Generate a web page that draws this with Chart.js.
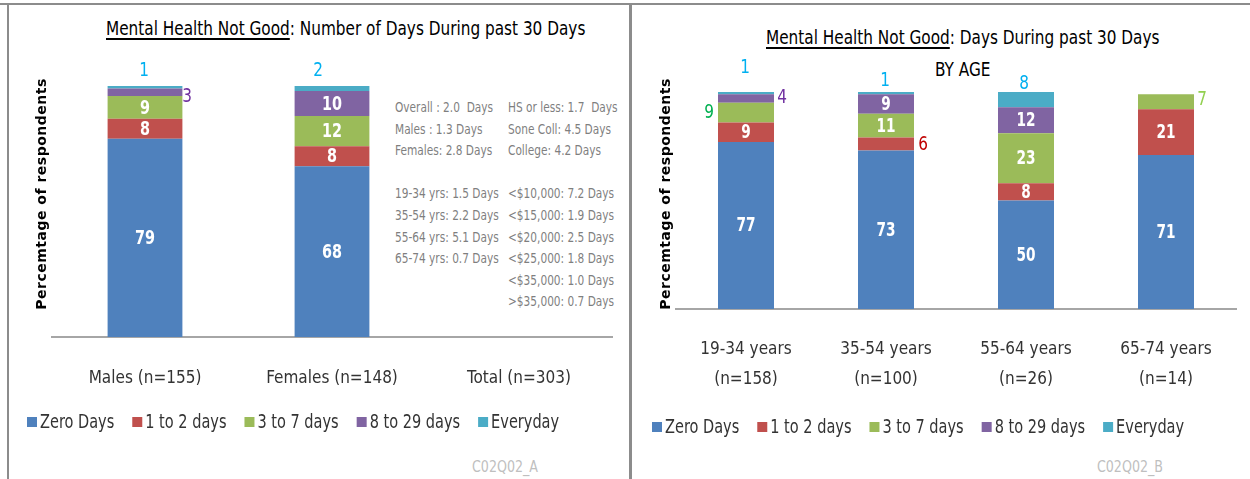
<!DOCTYPE html>
<html>
<head>
<meta charset="utf-8">
<script src="https://cdn.jsdelivr.net/npm/chart.js@4.4.1/dist/chart.umd.min.js"></script>
<style>
  html, body { margin: 0; padding: 0; background: #fff; }
  body { width: 1250px; height: 479px; position: relative; overflow: hidden;
         font-family: 'DejaVu Sans Condensed', Roboto, sans-serif; }
  .frame { position: absolute; background: #8c8c8c; }
  .title { position: absolute; font-size: 20px; line-height: 24px; color: #000; white-space: nowrap;
           transform: scaleX(0.85); transform-origin: 0 50%; }
  .title u { text-decoration-thickness: 2px; text-underline-offset: 3px; }
  .stats { position: absolute; font-size: 14px; color: #7f7f7f; white-space: pre; line-height: 21.6px;
           transform: scaleX(0.84); transform-origin: 0 0; }
  .code { position: absolute; font-size: 16px; color: #bfbfbf; width: 120px; text-align: center; line-height: 20px;
          transform: scaleX(0.88); }
  canvas { position: absolute; }
</style>
</head>
<body>
<div class="frame" style="left:0;top:3px;width:1250px;height:2px"></div>
<div class="frame" style="left:7px;top:3px;width:2px;height:476px"></div>
<div class="frame" style="left:629px;top:3px;width:3px;height:476px"></div>

<div class="title" style="left:106px;top:16px"><u>Mental Health Not Good</u>: Number of Days During past 30 Days</div>
<div class="title" style="left:766px;top:25px"><u>Mental Health Not Good</u>: Days During past 30 Days</div>
<div class="title" style="left:935px;top:57px">BY AGE</div>

<div class="stats" id="statsLeft" style="left:395px;top:97px"></div>
<div class="stats" id="statsRight" style="left:508px;top:97px"></div>

<div class="code" style="left:445px;top:457px">C02Q02_A</div>
<div class="code" style="left:1070px;top:457px">C02Q02_B</div>

<canvas id="chartLeft" width="618" height="473" style="left:10px;top:6px"></canvas>
<canvas id="chartRight" width="617" height="473" style="left:633px;top:6px"></canvas>

<script>
// ---- data ----
const seriesNames = ['Zero Days', '1 to 2 days', '3 to 7 days', '8 to 29 days', 'Everyday'];
const seriesColors = ['#4f81bd', '#c0504d', '#9bbb59', '#8064a2', '#4bacc6'];

const genderLabels = ['Males (n=155)', 'Females (n=148)', 'Total (n=303)'];
const genderZero = [79, 68, null];
const genderOneTwo = [8, 8, null];
const genderThreeSeven = [9, 12, null];
const genderEightTwentyNine = [3, 10, null];
const genderEveryday = [1, 2, null];

const ageLabels = [['19-34 years', '(n=158)'], ['35-54 years', '(n=100)'], ['55-64 years', '(n=26)'], ['65-74 years', '(n=14)']];
const ageZero = [77, 73, 50, 71];
const ageOneTwo = [9, 6, 8, 21];
const ageThreeSeven = [9, 11, 23, 7];
const ageEightTwentyNine = [4, 9, 12, 0];
const ageEveryday = [1, 1, 8, 0];

const statsLeftCol = ['Overall : 2.0  Days', 'Males : 1.3 Days', 'Females: 2.8 Days', '',
  '19-34 yrs: 1.5 Days', '35-54 yrs: 2.2 Days', '55-64 yrs: 5.1 Days', '65-74 yrs: 0.7 Days'];
const statsRightCol = ['HS or less: 1.7  Days', 'Sone Coll: 4.5 Days', 'College: 4.2 Days', '',
  '<$10,000: 7.2 Days', '<$15,000: 1.9 Days', '<$20,000: 2.5 Days', '<$25,000: 1.8 Days',
  '<$35,000: 1.0 Days', '>$35,000: 0.7 Days'];

document.getElementById('statsLeft').textContent = statsLeftCol.join('\n');
document.getElementById('statsRight').textContent = statsRightCol.join('\n');

const NARROW = "'DejaVu Sans Condensed', Roboto, sans-serif";
Chart.defaults.font.family = NARROW;

// draw text squeezed horizontally (the original uses a narrow font)
function squished(ctx, text, x, y, sx) {
    ctx.save();
    ctx.translate(x, y);
    ctx.scale(sx, 1);
    ctx.fillText(text, 0, 0);
    ctx.restore();
}

// ---- plugins ----
// value labels on each stacked segment (white inside, coloured when moved outside)
const segmentLabels = {
    id: 'segmentLabels',
    afterDatasetsDraw(chart, args, opts) {
        const ctx = chart.ctx;
        chart.data.datasets.forEach((ds, di) => {
            const meta = chart.getDatasetMeta(di);
            meta.data.forEach((bar, i) => {
                const v = ds.data[i];
                if (!v) return;
                const out = opts.outside.find(o => o.ds === di && o.i === i);
                ctx.save();
                ctx.textAlign = 'center';
                ctx.textBaseline = 'middle';
                if (out) {
                    const ay = out.anchor === 'top' ? bar.y : (bar.y + bar.base) / 2;
                    ctx.fillStyle = out.color;
                    ctx.font = opts.outsideFont;
                    squished(ctx, String(v), bar.x + out.dx, ay + out.dy, 0.85);
                } else {
                    ctx.fillStyle = '#fff';
                    ctx.font = opts.insideFont;
                    squished(ctx, String(v), bar.x, (bar.y + bar.base) / 2 + 1, 0.8);
                }
                ctx.restore();
            });
        });
    }
};

// horizontal legend with square swatches
const squareLegend = {
    id: 'squareLegend',
    afterDraw(chart, args, opts) {
        const ctx = chart.ctx;
        ctx.save();
        ctx.font = opts.font;
        ctx.textBaseline = 'middle';
        ctx.textAlign = 'left';
        let x = opts.x;
        chart.data.datasets.forEach(ds => {
            ctx.fillStyle = ds.backgroundColor;
            ctx.fillRect(x, opts.y - 5, 10, 10);
            ctx.fillStyle = opts.color;
            squished(ctx, ds.label, x + 13, opts.y + 1, opts.sx);
            x += 13 + ctx.measureText(ds.label).width * opts.sx + opts.gap;
        });
        ctx.restore();
    }
};

// rotated y axis title
const axisTitle = {
    id: 'axisTitle',
    afterDraw(chart, args, opts) {
        const ctx = chart.ctx;
        ctx.save();
        ctx.translate(opts.x, opts.y);
        ctx.rotate(-Math.PI / 2);
        ctx.font = "bold 14px 'DejaVu Sans', sans-serif";
        ctx.letterSpacing = '0.5px';
        ctx.fillStyle = '#000';
        ctx.textAlign = 'center';
        ctx.textBaseline = 'middle';
        ctx.fillText(opts.text, 0, 0);
        ctx.restore();
    }
};

function makeDatasets(cols) {
    return cols.map((data, k) => ({
        label: seriesNames[k],
        data: data,
        backgroundColor: seriesColors[k],
        borderWidth: 0,
        categoryPercentage: 1,
        barPercentage: 0.4
    }));
}

function makeOptions(cfg) {
    return {
        responsive: false,
        devicePixelRatio: 1,
        animation: false,
        layout: { padding: cfg.padding },
        scales: {
            x: {
                stacked: true,
                grid: { display: false, drawTicks: false },
                border: { display: true, color: '#a6a6a6', width: 2 },
                ticks: { color: '#333', padding: cfg.tickPadding, font: { size: 17, lineHeight: cfg.tickLineHeight }, maxRotation: 0 },
                afterFit: s => { s.height = 100; }
            },
            y: {
                display: false,
                stacked: true,
                min: 0,
                max: 100
            }
        },
        plugins: {
            legend: { display: false },
            tooltip: { enabled: false },
            segmentLabels: {
                insideFont: cfg.insideFont,
                outsideFont: '20px ' + NARROW,
                outside: cfg.outside
            },
            squareLegend: { x: cfg.legendX, y: cfg.legendY, gap: 18, sx: 0.85, font: '19px ' + NARROW, color: '#333' },
            axisTitle: { text: 'Percemtage of respondents', x: cfg.titleX, y: 188 }
        }
    };
}

// ---- left: by gender ----
new Chart(document.getElementById('chartLeft'), {
    type: 'bar',
    data: {
        labels: genderLabels,
        datasets: makeDatasets([genderZero, genderOneTwo, genderThreeSeven, genderEightTwentyNine, genderEveryday])
    },
    options: makeOptions({
        padding: { left: 41.5, right: 15.5, top: 80, bottom: 42 },
        titleX: 32,
        tickPadding: 31,
        tickLineHeight: 1.2,
        insideFont: 'bold 20px ' + NARROW,
        legendX: 17,
        legendY: 416,
        outside: [
            { ds: 4, i: 0, anchor: 'top', dx: -1, dy: -15, color: '#00b0f0' },
            { ds: 3, i: 0, anchor: 'mid', dx: 42, dy: 5, color: '#7030a0' },
            { ds: 4, i: 1, anchor: 'top', dx: -14, dy: -15, color: '#00b0f0' }
        ]
    }),
    plugins: [segmentLabels, squareLegend, axisTitle]
});

// ---- right: by age ----
new Chart(document.getElementById('chartRight'), {
    type: 'bar',
    data: {
        labels: ageLabels,
        datasets: makeDatasets([ageZero, ageOneTwo, ageThreeSeven, ageEightTwentyNine, ageEveryday])
    },
    options: makeOptions({
        padding: { left: 43, right: 14, top: 86, bottom: 70 },
        titleX: 33,
        tickPadding: 26,
        tickLineHeight: 1.76,
        insideFont: 'bold 19px ' + NARROW,
        legendX: 19,
        legendY: 421,
        outside: [
            { ds: 4, i: 0, anchor: 'top', dx: -1, dy: -24, color: '#00b0f0' },
            { ds: 3, i: 0, anchor: 'mid', dx: 36, dy: -1, color: '#7030a0' },
            { ds: 2, i: 0, anchor: 'mid', dx: -37, dy: 0, color: '#00b050' },
            { ds: 4, i: 1, anchor: 'top', dx: -1, dy: -11, color: '#00b0f0' },
            { ds: 1, i: 1, anchor: 'mid', dx: 37, dy: 1, color: '#c00000' },
            { ds: 4, i: 2, anchor: 'top', dx: -2, dy: -6, color: '#00b0f0' },
            { ds: 2, i: 3, anchor: 'mid', dx: 36, dy: -2, color: '#92d050' }
        ]
    }),
    plugins: [segmentLabels, squareLegend, axisTitle]
});
</script>
</body>
</html>
